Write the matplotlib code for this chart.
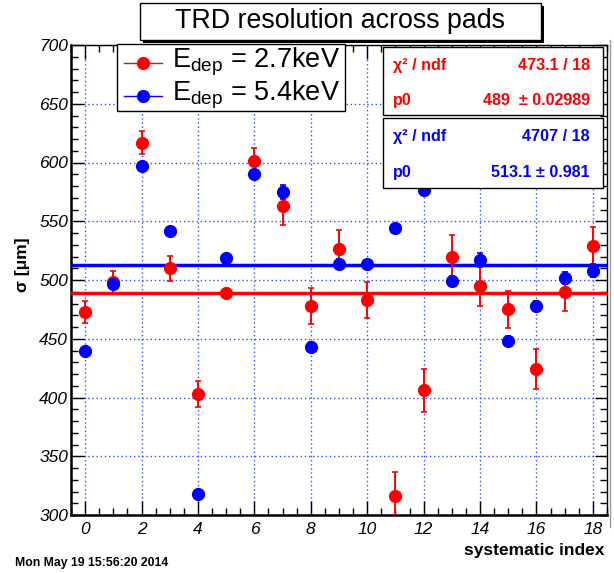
import numpy as np
import matplotlib
matplotlib.use('Agg')
import matplotlib.pyplot as plt
from matplotlib.ticker import MultipleLocator
from matplotlib.patches import Rectangle

plt.rcParams['font.family'] = ['Liberation Sans', 'DejaVu Sans']
plt.rcParams['mathtext.fontset'] = 'custom'
plt.rcParams['mathtext.rm'] = 'Liberation Sans'
plt.rcParams['mathtext.it'] = 'Liberation Sans:italic'
plt.rcParams['mathtext.bf'] = 'Liberation Sans:bold'

##==================== data ====================
idx = np.arange(19)
sig_27 = [473, 498, 617, 510, 403, 489, 601, 563, 478, 526, 483, 316, 406, 520, 495, 475, 424, 490, 529]
err_27 = [9.5, 10, 10, 10.5, 11, 2, 11, 16.5, 15.5, 16.5, 15, 21, 18.5, 18, 17, 16, 17, 16.5, 16]
sig_54 = [440, 497, 597, 542, 318, 519, 590, 575, 443, 513.5, 513.5, 544, 577, 499, 517, 448, 478, 501.5, 508]
err_54 = [3, 3, 3, 2.5, 2.5, 2.5, 3, 6, 4, 4, 3, 2.5, 3, 4.5, 6, 4.5, 4.5, 5, 5.5]
fit_27 = 489.0
fit_54 = 513.1
stat_27 = ['473.1 / 18', '489  \u00b1 0.02989']
stat_54 = ['4707 / 18', '513.1 \u00b1 0.981']

W, H = 614, 573
fig = plt.figure(figsize=(W/100, H/100), dpi=100)

def px(x0, y0, x1, y1):
    # pixel box (top-left origin) -> figure fraction
    return [x0/W, 1-y1/H, (x1-x0)/W, (y1-y0)/H]

ax = fig.add_axes(px(71, 45, 607, 515))
ax.set_xlim(-0.5, 18.5)
ax.set_ylim(300, 700)

ax.xaxis.set_major_locator(MultipleLocator(2))
ax.xaxis.set_minor_locator(MultipleLocator(0.5))
ax.yaxis.set_major_locator(MultipleLocator(50))
ax.yaxis.set_minor_locator(MultipleLocator(10))
ax.grid(True, which='major', color='#3050ff', ls=(0, (1, 2)), lw=1)
ax.tick_params(which='both', direction='in', top=True, right=True, width=1, colors='k')
ax.tick_params(axis='x', which='major', length=10, labelsize=12.5, pad=5)
ax.tick_params(axis='x', which='minor', length=5)
ax.tick_params(axis='y', which='major', length=9, labelsize=12.5, pad=2)
ax.tick_params(axis='y', which='minor', length=5)
for lab in ax.get_xticklabels() + ax.get_yticklabels():
    lab.set_fontstyle('italic')
for s in ['left', 'bottom']:
    ax.spines[s].set_linewidth(1.8)
for s in ['top', 'right']:
    ax.spines[s].set_linewidth(1.0)

ax.axhline(fit_27, color='#ff0000', lw=2.5, zorder=3)
ax.axhline(fit_54, color='#0000ff', lw=2.5, zorder=3)

ax.errorbar(idx, sig_27, yerr=err_27, fmt='o', color='#ff0000', ms=8.5,
            elinewidth=1.4, capsize=2.5, capthick=1.2, zorder=4)
ax.errorbar(idx, sig_54, yerr=err_54, fmt='o', color='#0000ff', ms=8.5,
            elinewidth=1.4, capsize=2.5, capthick=1.2, zorder=5)

# canvas border on the right
fig.lines.append(plt.Line2D([610/W, 610/W], [0.08, 1-40/H], color='#999999', lw=1,
                            transform=fig.transFigure))

fig.text(22/W, 1-265/H, '\u03c3 [\u03bcm]', rotation=90, fontsize=12.5,
         fontweight='bold', ha='center', va='center')
fig.text(604/W, 1-550/H, 'systematic index', fontsize=12.5, fontweight='bold',
         ha='right', va='center')
fig.text(15/W, 1-563/H, 'Mon May 19 15:56:20 2014', fontsize=8.8,
         fontweight='bold', ha='left', va='center')

# title box
fig.patches.append(Rectangle((143/W, 1-43/H), 401/W, 37/H, transform=fig.transFigure,
                             fc='k', ec='none', zorder=9))
fig.patches.append(Rectangle((140/W, 1-40/H), 401/W, 37/H, transform=fig.transFigure,
                             fc='white', ec='k', lw=1, zorder=10))
fig.text(340/W, 1-21/H, 'TRD resolution across pads', fontsize=19.3,
         ha='center', va='center', zorder=11)

# legend box
fig.patches.append(Rectangle((117/W, 1-111/H), 228/W, 67/H, transform=fig.transFigure,
                             fc='white', ec='k', lw=1, zorder=10))
for yy, col, lab in [(63, '#ff0000', r'$\mathrm{E_{dep}}$ = 2.7keV'),
                     (96, '#0000ff', r'$\mathrm{E_{dep}}$ = 5.4keV')]:
    fig.lines.append(plt.Line2D([124/W, 162/W], [1-yy/H, 1-yy/H], color=col, lw=1,
                                transform=fig.transFigure, zorder=11))
    fig.lines.append(plt.Line2D([143/W], [1-yy/H], color=col, marker='o', ms=8.5,
                                transform=fig.transFigure, zorder=12))
    fig.text(172/W, 1-(yy-1)/H, lab, fontsize=19.5, ha='left', va='center', zorder=12)

# stats boxes
for (y0, y1, col, vals) in [(47, 115, '#ff0000', stat_27), (118, 188, '#0000ff', stat_54)]:
    fig.patches.append(Rectangle((383/W, 1-y1/H), 220/W, (y1-y0)/H, transform=fig.transFigure,
                                 fc='white', ec='k', lw=1, zorder=10))
    r1 = y0 + (y1-y0)*0.27
    r2 = y0 + (y1-y0)*0.78
    fig.text(393/W, 1-r1/H, '\u03c7\u00b2 / ndf', color=col, fontsize=11.6,
             fontweight='bold', ha='left', va='center', zorder=11)
    fig.text(590/W, 1-r1/H, vals[0], color=col, fontsize=11.6,
             fontweight='bold', ha='right', va='center', zorder=11)
    fig.text(393/W, 1-r2/H, 'p0', color=col, fontsize=11.6,
             fontweight='bold', ha='left', va='center', zorder=11)
    fig.text(590/W, 1-r2/H, vals[1], color=col, fontsize=11.6,
             fontweight='bold', ha='right', va='center', zorder=11)

fig.savefig('out.png', dpi=100)
